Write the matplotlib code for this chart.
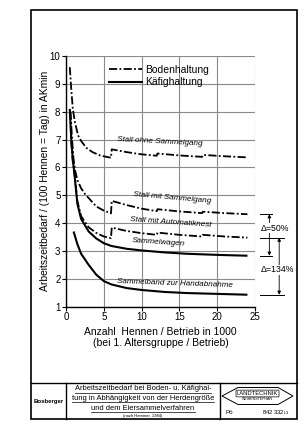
import matplotlib.pyplot as plt
from matplotlib.patches import Rectangle, Polygon
from matplotlib.lines import Line2D

plt.rcParams['font.family'] = ['Liberation Sans', 'DejaVu Sans']

# Bodenhaltung (dash-dot curves)
ohne_x = [0.5, 0.7, 0.9, 1.2, 1.6, 2.0, 2.7, 3.5, 4.5, 5.5, 5.95, 6.05, 8, 10, 12, 12.1, 15, 18, 18.1, 21, 24]
ohne_y = [9.6, 8.8, 8.1, 7.6, 7.15, 6.95, 6.7, 6.55, 6.43, 6.37, 6.35, 6.65, 6.55, 6.47, 6.42, 6.5, 6.43, 6.38, 6.45, 6.4, 6.36]

gang_x = [0.6, 0.8, 1.0, 1.2, 1.5, 2.0, 2.5, 3.0, 4.0, 5.0, 5.95, 6.05, 8, 10, 12, 12.1, 15, 18, 18.1, 21, 24]
gang_y = [8.0, 7.0, 6.3, 5.9, 5.55, 5.25, 5.05, 4.9, 4.6, 4.45, 4.35, 4.8, 4.65, 4.52, 4.43, 4.5, 4.42, 4.36, 4.41, 4.36, 4.32]

nest_x = [0.55, 0.7, 0.9, 1.1, 1.5, 2.0, 3.0, 4.0, 5.0, 5.95, 6.05, 8, 10, 12, 12.1, 15, 18, 18.1, 21, 24]
nest_y = [8.0, 6.9, 6.2, 5.85, 4.8, 4.25, 3.85, 3.65, 3.52, 3.46, 3.84, 3.72, 3.64, 3.58, 3.66, 3.58, 3.52, 3.58, 3.52, 3.48]

# Kaefighaltung (solid curves)
wagen_x = [0.5, 0.7, 0.9, 1.1, 1.5, 2.0, 3.0, 4.0, 5.0, 6.0, 8.0, 10, 13, 16, 20, 24]
wagen_y = [8.1, 7.0, 6.3, 5.8, 4.7, 4.15, 3.7, 3.45, 3.28, 3.18, 3.08, 3.02, 2.95, 2.9, 2.86, 2.83]

band_x = [1.0, 1.5, 2.0, 3.0, 4.0, 5.0, 6.0, 8.0, 10, 13, 16, 20, 24]
band_y = [3.7, 3.25, 2.9, 2.5, 2.15, 1.92, 1.8, 1.67, 1.6, 1.53, 1.49, 1.46, 1.43]

x_ticks = [0, 5, 10, 15, 20, 25]
y_ticks = [1, 2, 3, 4, 5, 6, 7, 8, 9, 10]

W, H = 306, 432
def fx(p): return p / W
def fy(p): return 1 - p / H

fig = plt.figure(figsize=(3.06, 4.32), dpi=100)
ax = fig.add_axes([fx(66), fy(306.7), fx(255) - fx(66), fy(56) - fy(306.7)])

dd = (4.5, 1.3, 1.0, 1.3)
for xs, ys in [(ohne_x, ohne_y), (gang_x, gang_y), (nest_x, nest_y)]:
    ax.plot(xs, ys, color='k', lw=1.3, dashes=dd)
for xs, ys in [(wagen_x, wagen_y), (band_x, band_y)]:
    ax.plot(xs, ys, color='k', lw=1.5, solid_capstyle='butt')

ax.set_xlim(0, 25)
ax.set_ylim(1, 10)
ax.set_xticks(x_ticks)
ax.set_yticks(y_ticks)
ax.tick_params(labelsize=7, length=3, width=0.8, pad=1)
ax.grid(True, color='#8a8a8a', lw=0.8)
for s in ['top', 'right']:
    ax.spines[s].set_visible(False)
for s in ['left', 'bottom']:
    ax.spines[s].set_linewidth(1.0)

ax.set_ylabel('Arbeitszeitbedarf / (100 Hennen = Tag) in AKmin', fontsize=7.4)
ax.yaxis.set_label_coords(-0.085, 0.5)
ax.set_xlabel('Anzahl  Hennen / Betrieb in 1000\n(bei 1. Altersgruppe / Betrieb)', fontsize=7.5, linespacing=1.1)
ax.xaxis.set_label_coords(0.5, -0.08)
ax.xaxis.label.set_va('top')

handles = [Line2D([], [], color='k', lw=1.3, dashes=dd), Line2D([], [], color='k', lw=1.5)]
ax.legend(handles, ['Bodenhaltung', 'Käfighaltung'], loc='upper left', bbox_to_anchor=(0.225, 0.965),
          frameon=False, handlelength=3.2, handletextpad=0.3, fontsize=7.5, labelspacing=0.25,
          borderpad=0, borderaxespad=0)

lab = dict(fontsize=5.8, style='italic', ha='left', va='bottom')
ax.text(6.7, 6.7, 'Stall ohne Sammelgang', rotation=-3, **lab)
ax.text(8.9, 4.66, 'Stall mit Sammelgang', rotation=-5, **lab)
ax.text(8.5, 3.8, 'Stall mit Automatiknest', rotation=-4, **lab)
ax.text(8.7, 3.12, 'Sammelwagen', rotation=-4, **lab)
ax.text(6.8, 1.62, 'Sammelband zur Handabnahme', rotation=-2, **lab)

# difference markers to the right of the grid
for y, x1 in [(gang_y[-1], 27.2), (wagen_y[-1], 27.2), (nest_y[-1], 28.8), (band_y[-1], 28.8)]:
    ax.plot([25.6, x1], [y, y], color='k', lw=0.7, clip_on=False)
for xa, y1, y2 in [(26.9, gang_y[-1], wagen_y[-1]), (28.2, nest_y[-1], band_y[-1])]:
    ax.annotate('', xy=(xa, y2), xytext=(xa, y1), annotation_clip=False,
                arrowprops=dict(arrowstyle='<|-|>', lw=0.6, color='k', mutation_scale=5,
                                shrinkA=0, shrinkB=0))
box = dict(fc='white', ec='none', pad=0.5)
ax.text(25.7, 3.82, 'Δ=50%', fontsize=6.3, ha='left', va='center', bbox=box, clip_on=False, zorder=5)
ax.text(25.7, 2.32, 'Δ=134%', fontsize=6.3, ha='left', va='center', bbox=box, clip_on=False, zorder=5)

# outer frame and title block
fig.add_artist(Rectangle((fx(31), fy(419)), fx(297) - fx(31), fy(10) - fy(419),
                         transform=fig.transFigure, fill=False, lw=1.2, ec='k'))
fig.add_artist(Line2D([fx(31), fx(297)], [fy(383), fy(383)], transform=fig.transFigure, color='k', lw=1.0))
for px in [66, 220]:
    fig.add_artist(Line2D([fx(px), fx(px)], [fy(383), fy(419)], transform=fig.transFigure, color='k', lw=1.0))

fig.text(fx(48.5), fy(401), 'Bosberger', fontsize=4.3, weight='bold', ha='center', va='center')
title_lines = ['Arbeitszeitbedarf bei Boden- u. Käfighal-',
               'tung in Abhängigkeit von der Herdengröße',
               'und dem Eiersammelverfahren']
title_texts = []
for i, t in enumerate(title_lines):
    title_texts.append(fig.text(fx(143), fy(389 + 9.5 * i), t, fontsize=5.4, ha='center', va='center'))
fig.text(fx(143), fy(416.5), '(nach Hammer, 1984)', fontsize=3.0, ha='center', va='center')

fig.add_artist(Polygon([(fx(222), fy(396)), (fx(238), fy(387.5)), (fx(278), fy(387.5)),
                        (fx(293), fy(396)), (fx(278), fy(404.5)), (fx(238), fy(404.5))],
                       closed=True, fill=False, lw=0.7, ec='k', transform=fig.transFigure))
fig.text(fx(257.5), fy(393.5), 'LANDTECHNIK', fontsize=4.2, ha='center', va='center',
         bbox=dict(boxstyle='round,pad=0.15', fc='white', ec='k', lw=0.5))
fig.text(fx(257.5), fy(399.5), 'WEIHENSTEPHAN', fontsize=2.6, ha='center', va='center')
fig.text(fx(225), fy(413), 'Pö', fontsize=4.5, ha='left', va='center')
fig.text(fx(290), fy(413), '842 332$_{\\mathregular{L3}}$', fontsize=4.2, ha='right', va='center')

# underline the title lines
fig.canvas.draw()
r = fig.canvas.get_renderer()
for t in title_texts:
    bb = t.get_window_extent(r).transformed(fig.transFigure.inverted())
    fig.add_artist(Line2D([bb.x0, bb.x1], [bb.y0, bb.y0], transform=fig.transFigure, color='k', lw=0.5))

fig.savefig('out.png', dpi=100, facecolor='white')
